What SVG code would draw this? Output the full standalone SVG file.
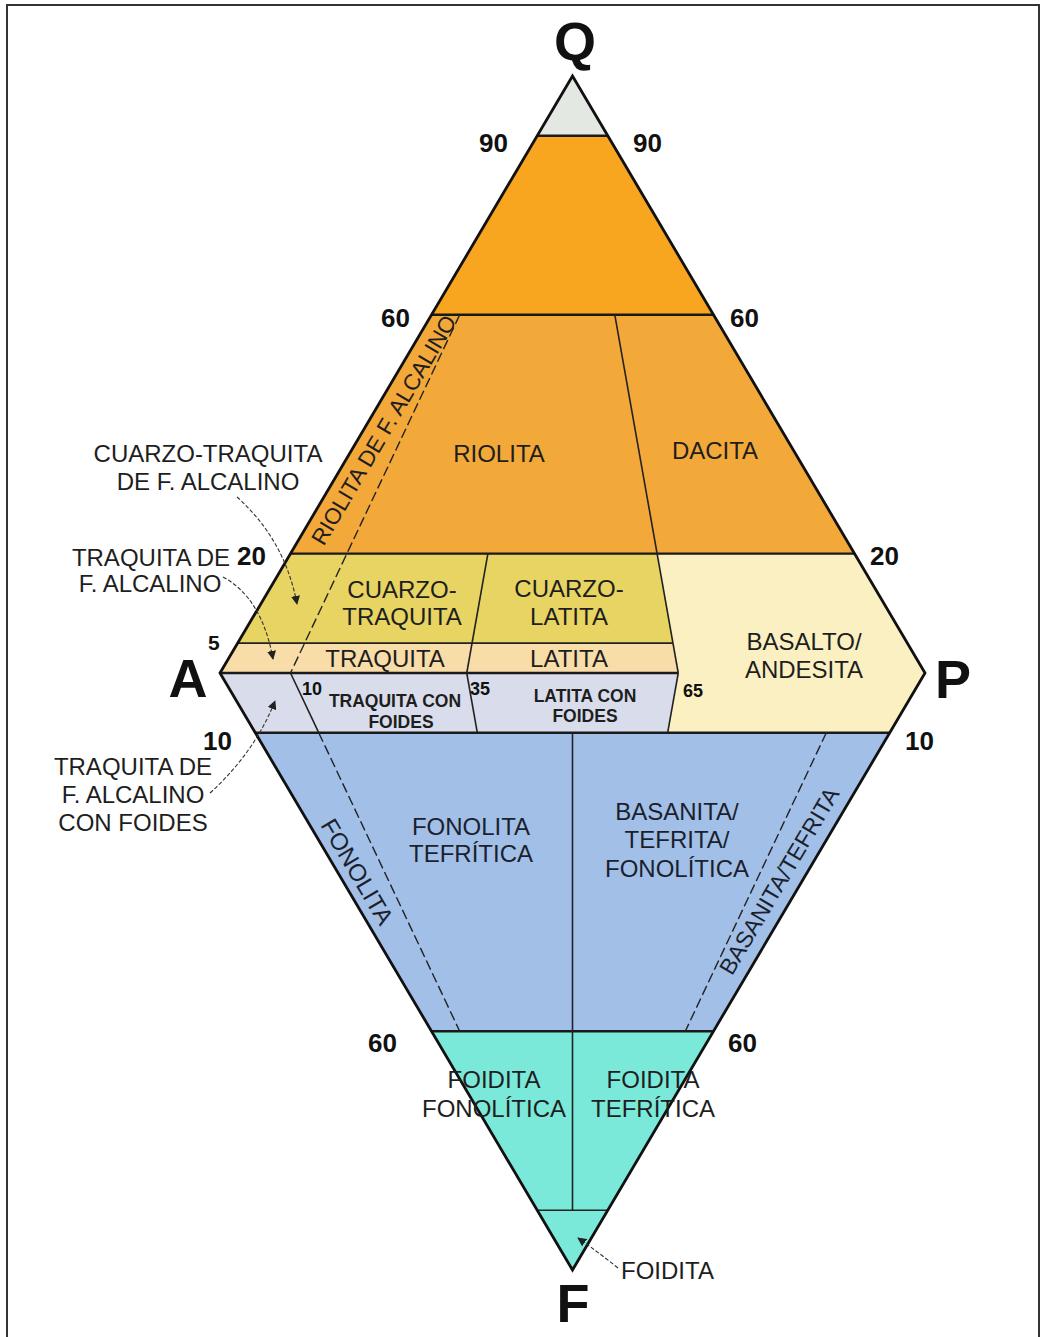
<svg xmlns="http://www.w3.org/2000/svg" width="1041" height="1337" viewBox="0 0 1041 1337">
<defs>
<style>
.lbl{font-family:"Liberation Sans",Arial,sans-serif;font-size:24px;fill:#1e1e1e;text-anchor:middle}
.blu{fill:#1b1f2e}
.num{font-family:"Liberation Sans",Arial,sans-serif;font-weight:bold;font-size:26px;fill:#111}
.apex{font-family:"Liberation Sans",Arial,sans-serif;font-weight:bold;font-size:54px;fill:#111;text-anchor:middle}
.sm{font-family:"Liberation Sans",Arial,sans-serif;font-weight:bold;font-size:17.5px;fill:#1e1e1e;text-anchor:middle}
.smn{font-family:"Liberation Sans",Arial,sans-serif;font-weight:bold;font-size:18px;fill:#111}
.reg{stroke:none}
.ln{stroke:#222;stroke-width:1.6;fill:none}
.thk{stroke:#1a1a1a;stroke-width:2.4;fill:none}
.dash{stroke:#222;stroke-width:1.4;fill:none;stroke-dasharray:10 4}
.lead{stroke:#333;stroke-width:1.1;fill:none;stroke-dasharray:4 2}
</style>
<marker id="arr" viewBox="0 0 10 10" refX="9" refY="5" markerWidth="9" markerHeight="9" markerUnits="userSpaceOnUse" orient="auto">
<path d="M0,0 L10,5 L0,10 z" fill="#222"/>
</marker>
</defs>
<rect x="7" y="5" width="1032" height="1345" fill="#fff" stroke="#333" stroke-width="2"/>

<g id="region-q90">
<polygon class="reg" points="572.5,76 607.75,135.7 537.25,135.7" fill="#E3E8E3"/>
</g>
<g id="region-q60-90">
<polygon class="reg" points="537.25,135.7 607.75,135.7 713.5,314.8 431.5,314.8" fill="#F8A520"/>
</g>
<g id="region-riolita-dacita">
<polygon class="reg" points="431.5,314.8 713.5,314.8 854.5,553.6 290.5,553.6" fill="#F3A83A"/>
</g>
<g id="region-cuarzo-traquita">
<polygon class="reg" points="290.5,553.6 657.1,553.6 673,643.15 237.6,643.15" fill="#E8D462"/>
</g>
<g id="region-traquita">
<polygon class="reg" points="237.6,643.15 673,643.15 678.25,673 220,673" fill="#F8DDA8"/>
</g>
<g id="region-foides">
<polygon class="reg" points="220,673 678.25,673 667.7,732.7 255.25,732.7" fill="#D9DCEA"/>
</g>
<g id="region-basalto">
<polygon class="reg" points="657.1,553.6 854.5,553.6 925,673 889.75,732.7 667.7,732.7 678.25,673" fill="#FBF0C1"/>
</g>
<g id="region-blue">
<polygon class="reg" points="255.25,732.7 889.75,732.7 713.5,1031.2 431.5,1031.2" fill="#A1BFE7"/>
</g>
<g id="region-foidita">
<polygon class="reg" points="431.5,1031.2 713.5,1031.2 572.5,1270" fill="#7BE9D9"/>
</g>

<g id="grid-lines">
<line class="thk" x1="537.25" y1="135.7" x2="607.75" y2="135.7"/>
<line class="thk" x1="431.5" y1="314.8" x2="713.5" y2="314.8"/>
<line class="thk" x1="290.5" y1="553.6" x2="854.5" y2="553.6"/>
<line class="ln" x1="237.6" y1="643.15" x2="673" y2="643.15"/>
<line class="thk" x1="220" y1="673" x2="678.25" y2="673"/>
<line class="thk" x1="255.25" y1="732.7" x2="889.75" y2="732.7"/>
<line class="thk" x1="431.5" y1="1031.2" x2="713.5" y2="1031.2"/>
<line class="ln" x1="537.25" y1="1210.3" x2="607.75" y2="1210.3"/>
<line class="dash" x1="459.7" y1="314.8" x2="290.5" y2="673"/>
<line class="ln" x1="290.5" y1="673" x2="318.7" y2="732.7"/>
<line class="dash" x1="318.7" y1="732.7" x2="459.7" y2="1031.2"/>
<line class="ln" x1="487.9" y1="553.6" x2="466.75" y2="673"/>
<line class="ln" x1="466.75" y1="673" x2="477.3" y2="732.7"/>
<line class="ln" x1="614.8" y1="314.8" x2="678.25" y2="673"/>
<line class="ln" x1="678.25" y1="673" x2="667.7" y2="732.7"/>
<line class="dash" x1="826.3" y1="732.7" x2="685.3" y2="1031.2"/>
<line class="ln" x1="572.5" y1="732.7" x2="572.5" y2="1210.3"/>
<polygon points="572.5,76 925,673 572.5,1270 220,673" fill="none" stroke="#111" stroke-width="2.8" stroke-linejoin="miter"/>
</g>

<g id="labels-regions">
<text class="lbl" x="499" y="462">RIOLITA</text>
<text class="lbl" x="715" y="459">DACITA</text>
<text class="lbl" x="402" y="598">CUARZO-</text>
<text class="lbl" x="402" y="625">TRAQUITA</text>
<text class="lbl" x="569" y="597">CUARZO-</text>
<text class="lbl" x="569" y="625">LATITA</text>
<text class="lbl" x="385" y="667">TRAQUITA</text>
<text class="lbl" x="569" y="667">LATITA</text>
<text class="sm" x="395" y="707">TRAQUITA CON</text>
<text class="sm" x="401" y="728">FOIDES</text>
<text class="sm" x="585" y="702">LATITA CON</text>
<text class="sm" x="585" y="722">FOIDES</text>
<text class="lbl" x="804" y="650">BASALTO/</text>
<text class="lbl" x="804" y="678">ANDESITA</text>
<text class="lbl blu" x="471" y="835">FONOLITA</text>
<text class="lbl blu" x="471" y="862">TEFRÍTICA</text>
<text class="lbl blu" x="677" y="820">BASANITA/</text>
<text class="lbl blu" x="677" y="848">TEFRITA/</text>
<text class="lbl blu" x="677" y="877">FONOLÍTICA</text>
<text class="lbl" x="494" y="1088">FOIDITA</text>
<text class="lbl" x="494" y="1117">FONOLÍTICA</text>
<text class="lbl" x="653" y="1088">FOIDITA</text>
<text class="lbl" x="653" y="1117">TEFRÍTICA</text>
<text class="lbl" style="font-size:22.5px" transform="translate(390.5,434) rotate(-59.44)">RIOLITA DE F. ALCALINO</text>
<text class="lbl blu" style="font-size:24px" transform="translate(350,876) rotate(59.44)">FONOLITA</text>
<text class="lbl blu" style="font-size:23px" transform="translate(786,885) rotate(-59.44)">BASANITA/TEFRITA</text>
</g>

<g id="labels-outside">
<text class="lbl" x="208" y="462">CUARZO-TRAQUITA</text>
<text class="lbl" x="208" y="490">DE F. ALCALINO</text>
<text class="lbl" x="151" y="566">TRAQUITA DE</text>
<text class="lbl" x="150" y="592">F. ALCALINO</text>
<text class="lbl" x="133" y="775">TRAQUITA DE</text>
<text class="lbl" x="133" y="803">F. ALCALINO</text>
<text class="lbl" x="133" y="831">CON FOIDES</text>
<text class="lbl" x="621" y="1279" style="text-anchor:start">FOIDITA</text>
</g>

<g id="labels-numbers">
<text class="apex" x="575" y="60">Q</text>
<text class="apex" x="188" y="697">A</text>
<text class="apex" x="953" y="698">P</text>
<text class="apex" x="573" y="1322">F</text>
<text class="num" x="508" y="152" text-anchor="end">90</text>
<text class="num" x="633" y="152">90</text>
<text class="num" x="410" y="327" text-anchor="end">60</text>
<text class="num" x="730" y="327">60</text>
<text class="num" x="266" y="565" text-anchor="end">20</text>
<text class="num" x="870" y="565">20</text>
<text class="smn" x="208" y="650" style="font-size:21px">5</text>
<text class="num" x="232" y="750" text-anchor="end">10</text>
<text class="num" x="905" y="750">10</text>
<text class="num" x="397" y="1052" text-anchor="end">60</text>
<text class="num" x="728" y="1052">60</text>
<text class="smn" x="302" y="695">10</text>
<text class="smn" x="470" y="695">35</text>
<text class="smn" x="683" y="697">65</text>
</g>

<g id="connectors">
<path class="lead" d="M237,497 Q285,540 297,604" marker-end="url(#arr)"/>
<path class="lead" d="M223,577 Q262,598 273,659" marker-end="url(#arr)"/>
<path class="lead" d="M210,793 Q255,752 275,701" marker-end="url(#arr)"/>
<path class="lead" d="M618,1268 Q598,1252 578,1238" marker-end="url(#arr)"/>
</g>
</svg>
